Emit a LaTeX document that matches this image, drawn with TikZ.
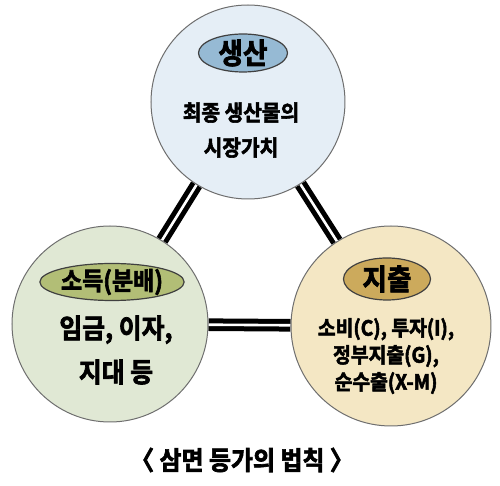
\documentclass[tikz,border=0pt]{standalone}
\usepackage{fontspec}
\setmainfont{Noto Sans CJK KR}[BoldFont={Noto Sans CJK KR Bold},BoldFeatures={FakeBold=2.5,FakeStretch=0.92}]
\usetikzlibrary{backgrounds,shapes.geometric}
\definecolor{prodblue}{RGB}{229,238,246}
\definecolor{prodtag}{RGB}{150,186,212}
\definecolor{incgreen}{RGB}{224,232,212}
\definecolor{inctag}{RGB}{178,190,118}
\definecolor{expsand}{RGB}{244,231,196}
\definecolor{exptag}{RGB}{204,170,92}
\definecolor{rimgray}{RGB}{110,110,110}

\begin{document}
\begin{tikzpicture}[
  x=0.5pt,y=-0.5pt,
  sector/.style={circle,draw=rimgray,line width=0.5pt,inner sep=0pt},
  tag/.style={ellipse,draw=black!75,line width=0.6pt,inner sep=0pt,font=\bfseries},
  body/.style={align=center,inner sep=0pt,font=\bfseries},
  link/.style={draw=black,line width=2.5pt,double=white,double distance=1.3pt}
]
\useasboundingbox (0,0) rectangle (500,486);
% ---------- three sides
\node[sector,fill=prodblue,minimum size=97pt]  (prod) at (248,102) {};
\node[sector,fill=incgreen,minimum size=98pt]  (inc)  at (110,324) {};
\node[sector,fill=expsand,minimum size=100pt]  (exp)  at (391,326) {};
% ---------- tags
\node[tag,fill=prodtag,minimum width=44.5pt,minimum height=18.5pt,font=\bfseries\fontsize{14.5}{14}\selectfont] (ptag) at (243,53) {생산};
\node[tag,fill=inctag,minimum width=63.5pt,minimum height=18.5pt,font=\bfseries\fontsize{12.5}{12}\selectfont] (itag) at (112,282) {소득(분배)};
\node[tag,fill=exptag,minimum width=43.5pt,minimum height=21pt,font=\bfseries\fontsize{14.5}{14}\selectfont] (etag) at (387,279) {지출};
% ---------- contents
\node[body,font=\bfseries\fontsize{11}{17.5}\selectfont] (ptxt) at (241,130) {최종 생산물의\\시장가치};
\node[body,font=\bfseries\fontsize{13.5}{22}\selectfont] (itxt) at (116,350) {임금, 이자,\\지대 등};
\node[body,font=\bfseries\fontsize{10.5}{13.5}\selectfont] (etxt) at (386,356) {소비(C), 투자(I),\\정부지출(G),\\순수출(X-M)};
% ---------- caption
\node[body,font=\bfseries\fontsize{13}{13}\selectfont] (title) at (242,460) {〈 삼면 등가의 법칙 〉};
% ---------- links
\begin{scope}[on background layer]
  \draw[link] (prod) -- (inc);
  \draw[link] (prod) -- (exp);
  \draw[link] (inc) -- (exp);
\end{scope}
\end{tikzpicture}
\end{document}
